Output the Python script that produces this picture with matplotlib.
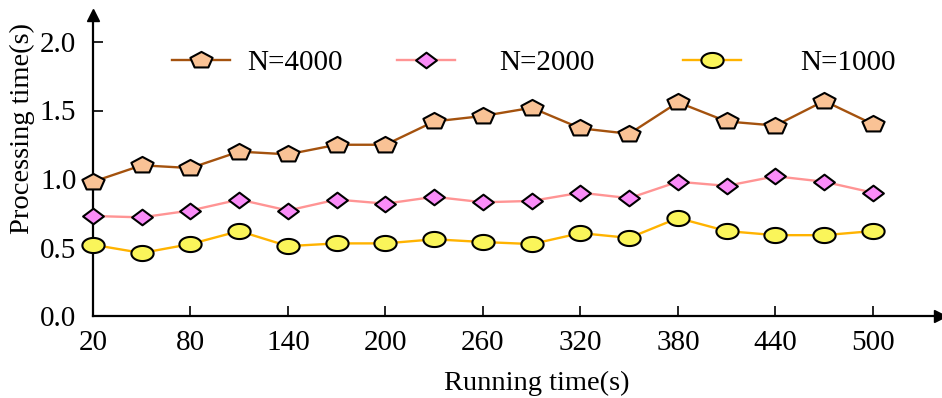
import numpy as np
import matplotlib
matplotlib.use("Agg")
import matplotlib.pyplot as plt
from matplotlib.path import Path
from matplotlib.legend import Legend

# ---- data ----
running_time = [20, 50, 80, 110, 140, 170, 200, 230, 260, 290, 320, 350, 380, 410, 440, 470, 500]
n4000 = [0.98, 1.10, 1.08, 1.20, 1.18, 1.25, 1.25, 1.42, 1.46, 1.52, 1.37, 1.33, 1.56, 1.42, 1.39, 1.57, 1.40]
n2000 = [0.73, 0.72, 0.77, 0.85, 0.77, 0.85, 0.82, 0.87, 0.83, 0.84, 0.90, 0.86, 0.98, 0.95, 1.02, 0.98, 0.90]
n1000 = [0.52, 0.46, 0.525, 0.62, 0.51, 0.53, 0.53, 0.56, 0.54, 0.525, 0.605, 0.57, 0.715, 0.62, 0.59, 0.59, 0.62]
series_labels = ["N=4000", "N=2000", "N=1000"]
xticks = [20, 80, 140, 200, 260, 320, 380, 440, 500]
yticks = [0.0, 0.5, 1.0, 1.5, 2.0]

plt.rcParams['font.family'] = ['Liberation Serif', 'DejaVu Serif']

W, H = 942, 398
fig = plt.figure(figsize=(W / 100, H / 100), dpi=100)
x0, x1, yb, yt = 93, 940, 316, 15
ax = fig.add_axes([x0 / W, (H - yb) / H, (x1 - x0) / W, (yb - yt) / H])
ax.set_xlim(20, 20 + (x1 - x0) / 1.625)
ax.set_ylim(0, (yb - yt) / 137.0)

# custom squashed markers
sq = 0.7
ang = np.deg2rad(90 + np.arange(5) * 72)
pent = np.column_stack([np.cos(ang), np.sin(ang) * sq * 1.05])
pent = np.vstack([pent, pent[0]])
pent_marker = Path(pent, [Path.MOVETO] + [Path.LINETO] * 4 + [Path.CLOSEPOLY])
diam = np.array([[-1, 0], [0, 0.75], [1, 0], [0, -0.75], [-1, 0]])
diam_marker = Path(diam, [Path.MOVETO] + [Path.LINETO] * 3 + [Path.CLOSEPOLY])
t = np.linspace(0, 2 * np.pi, 60)
ell = np.column_stack([np.cos(t), np.sin(t) * 0.68])
ell_marker = Path(ell, [Path.MOVETO] + [Path.LINETO] * 58 + [Path.CLOSEPOLY])

styles = [
    dict(color='#A4520E', marker=pent_marker, mfc='#F9C295', ms=16),
    dict(color='#FF9494', marker=diam_marker, mfc='#FA8CF8', ms=15),
    dict(color='#FFB300', marker=ell_marker, mfc='#FAF55A', ms=16),
]
lines = []
for ys, st, lab in zip([n4000, n2000, n1000], styles, series_labels):
    ln, = ax.plot(running_time, ys, color=st['color'], lw=1.7, marker=st['marker'],
                  mfc=st['mfc'], mec='black', mew=1.5, ms=st['ms'], label=lab,
                  clip_on=False, zorder=3)
    lines.append(ln)

# axes styling
for s in ['top', 'right']:
    ax.spines[s].set_visible(False)
for s in ['left', 'bottom']:
    ax.spines[s].set_linewidth(1.6)
ax.plot(1, 0, '>k', ms=9, transform=ax.transAxes, clip_on=False)
ax.plot(0, 1, '^k', ms=9, transform=ax.transAxes, clip_on=False)

ax.set_xticks(xticks)
ax.set_yticks(yticks)
ax.set_yticklabels([f"{v:.1f}" for v in yticks])
ax.tick_params(axis='both', direction='in', length=7, width=1.2, labelsize=21)
ax.tick_params(axis='x', pad=10)
ax.tick_params(axis='y', pad=12)

ax.set_xlabel("Running time(s)", fontsize=20.5)
ax.set_ylabel("Processing time(s)", fontsize=20.5)
ax.xaxis.set_label_coords((537 - x0) / (x1 - x0), -(383 - yb) / (yb - yt), transform=ax.transAxes)
ax.yaxis.set_label_coords((22 - x0) / (x1 - x0), (yb - 129) / (yb - yt))
ax.xaxis.label.set_va('center')
ax.yaxis.label.set_va('center')

# legend entries (three separate legends to match irregular spacing)
leg_pos = [(172, 0.59), (397, 1.52), (683, 2.03)]
for ln, (px, tp) in zip(lines, leg_pos):
    leg = Legend(ax, [ln], [ln.get_label()], loc='center left',
                 bbox_to_anchor=(px / W, (H - 63) / H), bbox_transform=fig.transFigure,
                 frameon=False, fontsize=21, handlelength=2.0, handletextpad=tp,
                 borderpad=0, borderaxespad=0, numpoints=1)
    ax.add_artist(leg)

fig.savefig("out.png", dpi=100)
